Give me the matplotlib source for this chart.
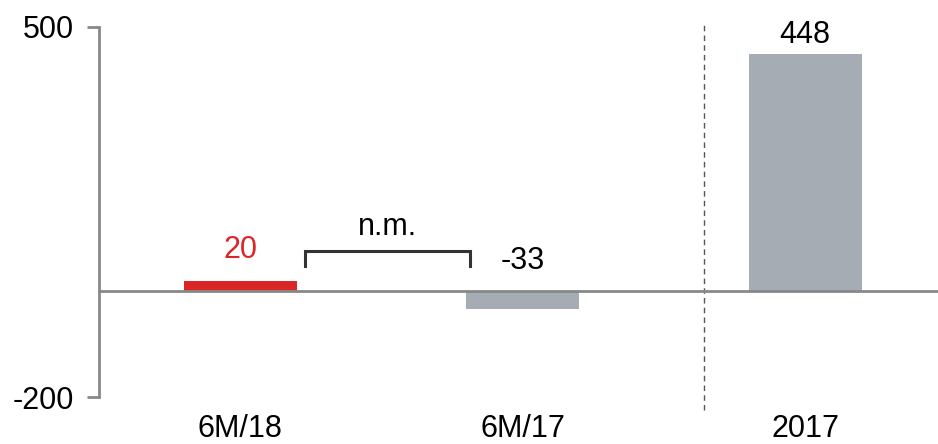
import matplotlib.pyplot as plt

plt.rcParams['font.family'] = ['Liberation Sans', 'DejaVu Sans']

# Values per period
categories = ['6M/18', '6M/17', '2017']
values = [20, -33, 448]
bar_colors = ['#da2626', '#a5acb3', '#a5acb3']
label_colors = ['#da2626', 'black', 'black']
# label offsets above the bar top (points)
label_offsets = [11, 11, 3]

fs = 22

fig = plt.figure(figsize=(9.38, 4.44), dpi=100)
ax = fig.add_axes([99 / 938, (444 - 397) / 444, 1 - 99 / 938, 370 / 444])

x = list(range(len(categories)))
ax.bar(x, values, width=0.4, color=bar_colors, zorder=2)

for xi, v, c, off in zip(x, values, label_colors, label_offsets):
    ax.annotate(str(v), (xi, max(v, 0)), xytext=(0, off), textcoords='offset points',
                ha='center', va='bottom', fontsize=fs, color=c)

ax.set_xlim(-0.5, 2.47)
ax.set_ylim(-200, 500)
ax.set_yticks([-200, 500])
ax.set_yticklabels(['-200', '500'])
ax.set_xticks([])

# zero line
ax.axhline(0, color='#888888', lw=2, zorder=3)

# separator between half-year and full-year figures
ax.plot([1.64, 1.64], [-225, 508], ls=(0, (4, 3)), color='#555555', lw=1,
        clip_on=False)

# n.m. bracket between the two half-years
bx0, bx1 = 0.23, 0.815
ax.plot([bx0, bx0, bx1, bx1], [48, 76, 76, 48], color='#333333', lw=2.2,
        solid_joinstyle='miter')
ax.text((bx0 + bx1) / 2, 94, 'n.m.', ha='center', va='bottom', fontsize=fs)

for s in ['top', 'right', 'bottom']:
    ax.spines[s].set_visible(False)
ax.spines['left'].set_color('#888888')
ax.spines['left'].set_linewidth(2)
ax.tick_params(axis='y', length=9, width=2, color='#888888', labelsize=fs, pad=9)

for xi, cat in zip(x, categories):
    ax.text(xi, -232, cat, ha='center', va='top', fontsize=fs)

fig.savefig('out.png', dpi=100)
